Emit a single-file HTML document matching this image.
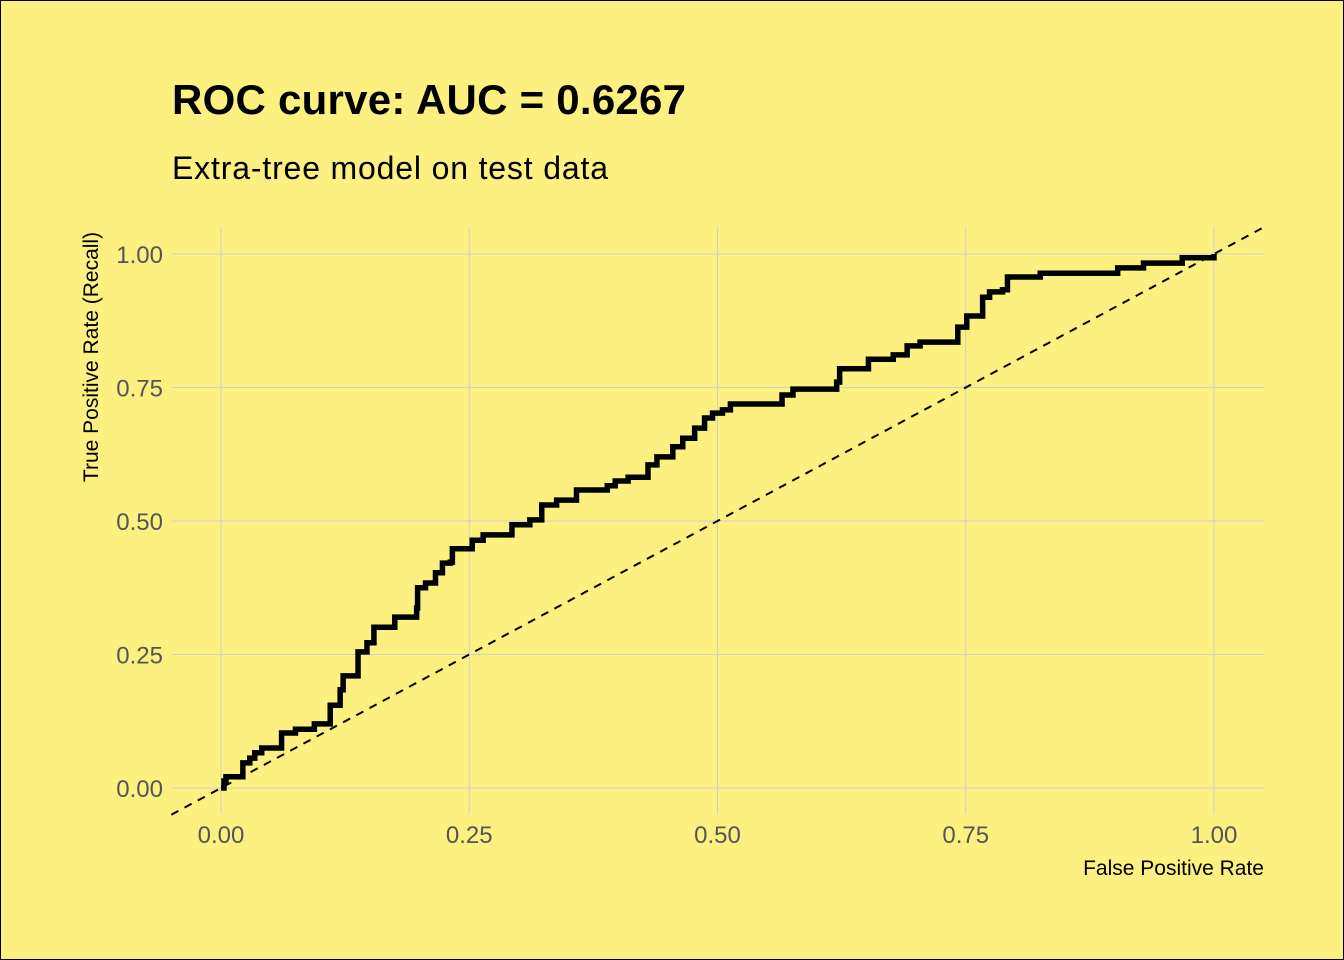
<!DOCTYPE html>
<html><head><meta charset="utf-8"><style>
html,body{margin:0;padding:0;background:#fcf180;}
svg{display:block;font-family:"Liberation Sans",sans-serif;}
</style></head><body>
<svg id="chart" width="1344" height="960">
<rect x="0.5" y="0.5" width="1343" height="959" fill="#fcf180" stroke="#000"/>
<text x="172" y="114" font-size="42" font-weight="bold" textLength="514">ROC curve: AUC = 0.6267</text>
<text x="172" y="179" font-size="32" textLength="436">Extra-tree model on test data</text>
<g id="grid"></g>
<g id="ticks"></g>
<path id="diag" fill="none" stroke="#000" stroke-width="2" stroke-dasharray="8,7"/>
<path id="roc" fill="none" stroke="#000" stroke-width="5.5" stroke-linejoin="miter"/>
<text x="1264" y="875" font-size="21" text-anchor="end">False Positive Rate</text>
<text transform="translate(98,357) rotate(-90)" font-size="21" text-anchor="middle">True Positive Rate (Recall)</text>
</svg>
<script>
const fpr=[0,.003,.005,.022,.022,.029,.034,.041,.052,.061,.075,.094,.110,.110,.118,.120,.123,.135,.138,.147,.154,.172,.175,.188,.197,.198,.206,.216,.223,.231,.233,.249,.253,.264,.288,.293,.311,.323,.323,.338,.358,.358,.387,.389,.397,.410,.427,.430,.439,.455,.455,.465,.477,.477,.487,.495,.505,.513,.565,.565,.576,.615,.620,.623,.652,.652,.677,.677,.691,.704,.741,.742,.751,.767,.774,.787,.792,.825,.902,.903,.929,.968,.968,1.0,1.0];
const tpr=[0,.013,.021,.021,.047,.056,.066,.075,.075,.103,.110,.120,.120,.155,.155,.184,.210,.210,.255,.272,.301,.301,.320,.320,.337,.375,.384,.403,.421,.423,.448,.448,.464,.474,.474,.493,.502,.502,.530,.539,.549,.558,.558,.566,.575,.582,.582,.605,.620,.620,.639,.655,.655,.674,.693,.702,.708,.719,.719,.736,.747,.747,.760,.785,.785,.803,.803,.811,.828,.835,.835,.863,.884,.919,.929,.933,.957,.964,.964,.974,.983,.983,.993,.994,1.0];
const xTicks=[0,0.25,0.5,0.75,1];
const yTicks=[0,0.25,0.5,0.75,1];
const xTickLabels=["0.00","0.25","0.50","0.75","1.00"];
const yTickLabels=["0.00","0.25","0.50","0.75","1.00"];
const diagX=[-0.05,1.05];

const X=v=>221+v*993, Y=v=>788-v*534;
const NS="http://www.w3.org/2000/svg";
const grid=document.getElementById('grid'), ticks=document.getElementById('ticks');
xTicks.forEach((t,i)=>{
  const l=document.createElementNS(NS,'line');
  l.setAttribute('x1',X(t));l.setAttribute('x2',X(t));l.setAttribute('y1',227);l.setAttribute('y2',814);
  l.setAttribute('stroke','#cfcfcc');l.setAttribute('stroke-width',1);
  
  
  grid.appendChild(l);
  const tx=document.createElementNS(NS,'text');
  tx.setAttribute('x',X(t));tx.setAttribute('y',843);tx.setAttribute('text-anchor','middle');
  tx.setAttribute('font-size','24');tx.setAttribute('fill','#555');
  tx.textContent=xTickLabels[i];
  
  
  ticks.appendChild(tx);
});
yTicks.forEach((t,i)=>{
  const l=document.createElementNS(NS,'line');
  l.setAttribute('y1',Y(t));l.setAttribute('y2',Y(t));l.setAttribute('x1',172);l.setAttribute('x2',1264);
  l.setAttribute('stroke','#cfcfcc');l.setAttribute('stroke-width',1);
  
  
  grid.appendChild(l);
  const tx=document.createElementNS(NS,'text');
  tx.setAttribute('x',163);tx.setAttribute('y',Y(t)+9);tx.setAttribute('text-anchor','end');
  tx.setAttribute('font-size','24');tx.setAttribute('fill','#555');
  tx.textContent=yTickLabels[i];
  
  
  ticks.appendChild(tx);
});
document.getElementById('diag').setAttribute('d','M'+X(diagX[0])+','+Y(diagX[0])+' L'+X(diagX[1])+','+Y(diagX[1]));
let d='M'+X(fpr[0])+','+Y(tpr[0]);
for(let i=1;i<fpr.length;i++){d+=' H'+X(fpr[i])+' V'+Y(tpr[i]);}
document.getElementById('roc').setAttribute('d',d);
</script>
</body></html>
